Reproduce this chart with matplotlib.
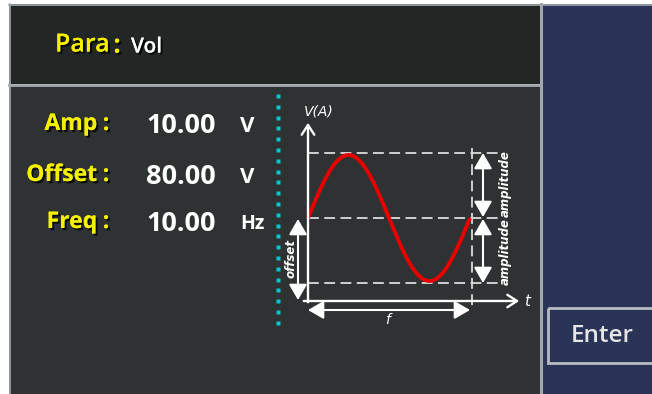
import numpy as np
import matplotlib.pyplot as plt
from matplotlib.patches import Rectangle
import matplotlib.patheffects as pe

# screen contents
title_key = 'Para'
title_val = 'Vol'
param_names = ['Amp', 'Offset', 'Freq']
param_values = ['10.00', '80.00', '10.00']
param_units = ['V', 'V', 'Hz']
button_text = 'Enter'

# waveform sketch (pixel coords of the little diagram)
x0, x1 = 308, 470          # one period
y_mid, amp = 218, 63

top_bg = '#222725'
low_bg = '#2e3232'
navy = '#2a3456'
border = '#a3a8ad'
yellow = '#f5ef00'
font = 'Open Sans'

fig = plt.figure(figsize=(6.52, 3.94), dpi=100)
fig.patch.set_facecolor('white')
ax = fig.add_axes([0, 0, 1, 1])
ax.set_xlim(0, 652)
ax.set_ylim(394, 0)
ax.axis('off')

# panels
ax.add_patch(Rectangle((9, 4), 531, 80, facecolor=top_bg, edgecolor='none'))
ax.add_patch(Rectangle((9, 85), 531, 309, facecolor=low_bg, edgecolor='none'))
ax.add_patch(Rectangle((541, 4), 111, 390, facecolor=navy, edgecolor='none'))
ax.plot([9.5, 9.5], [4, 394], color=border, lw=1.2)
ax.plot([9, 652], [4.5, 4.5], color=border, lw=1.2)
ax.plot([9, 540], [84.5, 84.5], color=border, lw=2.0)
ax.plot([540.5, 540.5], [4, 394], color=border, lw=2.2)

# Enter button
ax.add_patch(Rectangle((547.5, 308), 110, 55, facecolor='none',
                       edgecolor='#b8bcc1', lw=2.0))
ax.text(602, 336, button_text, color='#e6e6e6', fontsize=17.5,
        family=font, fontweight='semibold', ha='center', va='center')

shadow = [pe.withSimplePatchShadow(offset=(1.5, -1.5), shadow_rgbFace='black',
                                   alpha=0.8), pe.Normal()]

# header
ax.text(55, 45, title_key, color=yellow, fontsize=18, family=font,
        fontweight='semibold', ha='left', va='center', path_effects=shadow)
ax.text(117, 46, ':', color=yellow, fontsize=18, family=font,
        fontweight='bold', ha='center', va='center', path_effects=shadow)
ax.text(131, 47, title_val, color='white', fontsize=15, family=font,
        fontweight='semibold', ha='left', va='center', path_effects=shadow)

# parameter rows
rows_y = [124, 175, 222]
for name, val, unit, y in zip(param_names, param_values, param_units, rows_y):
    ax.text(97, y, name, color=yellow, fontsize=16.5, family=font,
            fontweight='bold', ha='right', va='center', path_effects=shadow)
    ax.text(106, y, ':', color=yellow, fontsize=16.5, family=font,
            fontweight='bold', ha='center', va='center', path_effects=shadow)
    ax.text(146, y + 2, val, color='white', fontsize=19.5, family=font,
            fontweight='bold', ha='left', va='center')
    ax.text(240, y + 2, unit, color='white', fontsize=14 if unit == 'Hz' else 16,
            family=font, fontweight='bold', ha='left', va='center')

# cyan dotted divider
dot_y = np.arange(96, 323, 10.8)
ax.plot(np.full_like(dot_y, 277.5), dot_y, ls='none', marker='s',
        ms=2.3, color='#00c8d2', mec='none')

# axes of the sketch
ax.annotate('', xy=(308, 120), xytext=(308, 305),
            arrowprops=dict(arrowstyle='->,head_width=0.45,head_length=0.7',
                            color='white', lw=1.7))
ax.annotate('', xy=(522, 301), xytext=(301, 301),
            arrowprops=dict(arrowstyle='->,head_width=0.45,head_length=0.7',
                            color='white', lw=1.7))
ax.text(304, 111, 'V(A)', color='white', fontsize=10, style='italic',
        ha='left', va='center')
ax.text(524, 301, 't', color='white', fontsize=11, style='italic',
        ha='left', va='center')

# dashed guides
dash = dict(color='#dcdcdc', lw=1.3, ls=(0, (6, 3)))
for yy in [y_mid - amp - 2, y_mid, y_mid + amp + 2]:
    ax.plot([308, 500], [yy, yy], **dash)
ax.plot([472, 472], [148, 307], **dash)

# sine wave
t = np.linspace(x0, x1, 300)
ax.plot(t, y_mid - amp * np.sin(2 * np.pi * (t - x0) / (x1 - x0)),
        color='#e60000', lw=2.8, solid_capstyle='butt')

# double arrows
dbl = dict(arrowstyle='<|-|>,head_width=0.55,head_length=0.95',
           color='white', lw=1.5, shrinkA=0, shrinkB=0)
ax.annotate('', xy=(483, 153), xytext=(483, 217), arrowprops=dbl)
ax.annotate('', xy=(483, 219), xytext=(483, 283), arrowprops=dbl)
ax.annotate('', xy=(298, 219), xytext=(298, 300), arrowprops=dbl)
ax.annotate('', xy=(308, 310), xytext=(470, 310), arrowprops=dbl)

ax.text(505, 184, 'amplitude', color='white', fontsize=8.5, style='italic',
        fontweight='bold', rotation=90, ha='center', va='center')
ax.text(505, 252, 'amplitude', color='white', fontsize=8.5, style='italic',
        fontweight='bold', rotation=90, ha='center', va='center')
ax.text(291, 259, 'offset', color='white', fontsize=8.5, style='italic',
        fontweight='bold', rotation=90, ha='center', va='center')
ax.text(387, 320, 'f', color='white', fontsize=10, style='italic',
        ha='center', va='center')

fig.savefig('out.png', dpi=100)
